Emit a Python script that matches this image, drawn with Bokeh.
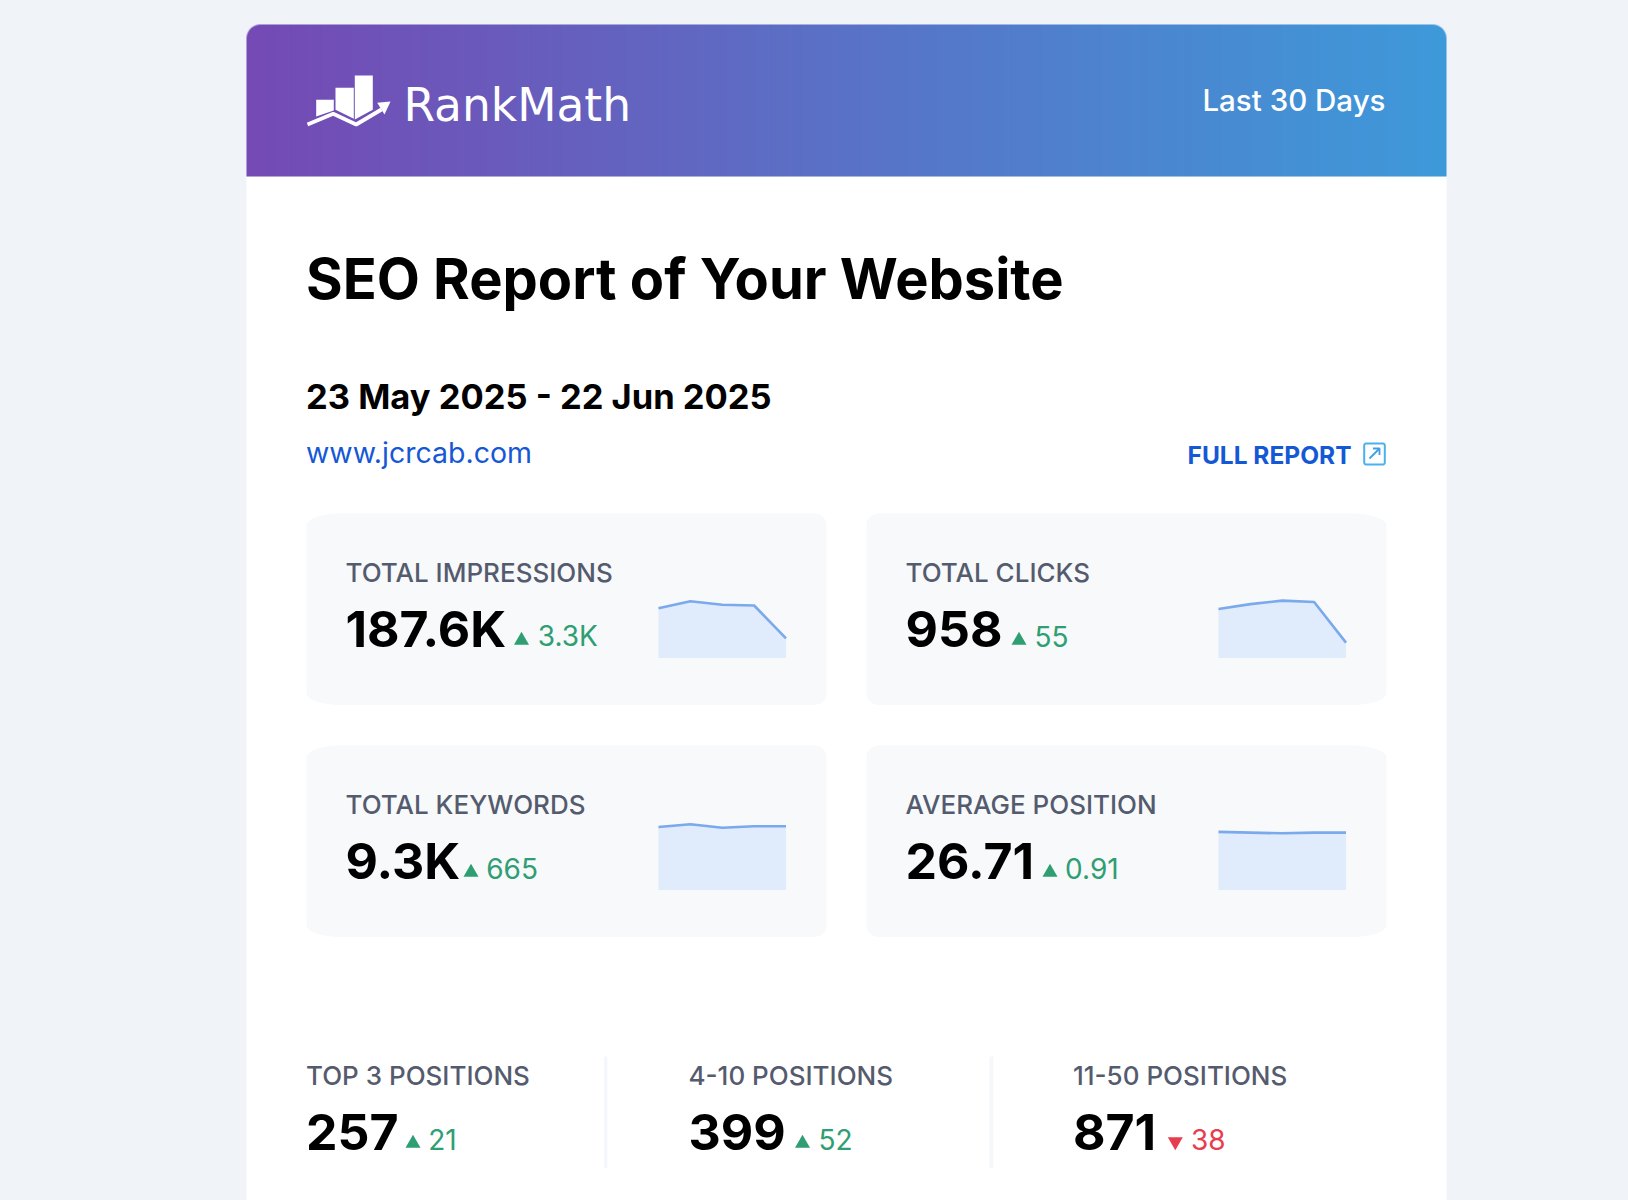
import numpy as np
from bokeh.core.properties import value
from bokeh.embed import file_html
from bokeh.models import GlobalInlineStyleSheet, Range1d
from bokeh.plotting import figure
from bokeh.resources import INLINE

# data
card_labels = ["TOTAL IMPRESSIONS", "TOTAL CLICKS", "TOTAL KEYWORDS", "AVERAGE POSITION"]
card_values = ["187.6K", "958", "9.3K", "26.71"]
card_deltas = ["3.3K", "55", "665", "0.91"]
impressions = [71, 81, 76, 75, 28]
clicks = [70, 77, 82, 80, 22]
keywords = [90, 94, 89, 91, 91]
position = [83, 82, 81, 82, 82]
spark_series = [impressions, clicks, keywords, position]
spark_idx = [0, 1, 2, 3, 4]

pos_labels = ["TOP 3 POSITIONS", "4-10 POSITIONS", "11-50 POSITIONS"]
pos_values = ["257", "399", "871"]
pos_deltas = ["21", "52", "38"]
pos_up = [True, True, False]

PAGE = "#f0f4f9"
GREEN = "#2f9e72"
RED = "#e63e4f"
GREY = "#555b6e"
BLUE = "#1558d6"
FONT = "Inter"
MEDIUM = "Inter Medium, Inter"

p = figure(width=1628, height=1200, x_range=Range1d(0, 1628), y_range=Range1d(1200, 0),
           output_backend="svg", toolbar_location=None, min_border=0,
           background_fill_color=PAGE, border_fill_color=PAGE, outline_line_color=None)
p.axis.visible = False
p.grid.visible = False
p.stylesheets = [GlobalInlineStyleSheet(css="body{background:%s}" % PAGE)]


def label(x, y, text, size, color="#000000", style="normal", align="left", font=FONT):
    # svg text sits lower than its baseline by about a third of the font size
    p.text([x], [y - 0.35 * size], text=[text], text_font=value(font), text_font_size="%gpx" % size,
           text_color=color, text_font_style=style, text_align=align, text_baseline="alphabetic")


def rounded(x0, y0, x1, y1, left, right):
    # left/right are (rx, ry) of the corners on each side
    t = np.linspace(0, np.pi / 2, 24)
    xs = np.concatenate([x0 + left[0] * (1 - np.cos(t)), x1 - right[0] * (1 - np.sin(t)),
                         x1 - right[0] * (1 - np.cos(t)), x0 + left[0] * (1 - np.sin(t))])
    ys = np.concatenate([y0 + left[1] * (1 - np.sin(t)), y0 + right[1] * (1 - np.cos(t)),
                         y1 - right[1] * (1 - np.sin(t)), y1 - left[1] * (1 - np.cos(t))])
    return xs, ys


# white page card
p.quad(left=246, right=1446, top=176, bottom=1200, fill_color="#ffffff", line_color=None)

# header gradient
W, H = 1200, 152
rgba = np.zeros((H, W, 4), dtype=np.uint8)
frac = np.arange(W) / (W - 1)
c0 = np.array([117, 74, 180])
c1 = np.array([62, 154, 218])
for k in range(3):
    rgba[:, :, k] = (c0[k] + (c1[k] - c0[k]) * frac)[None, :]
rgba[:, :, 3] = 255
R = 14
for j in range(R):
    for i in range(R):
        d = np.hypot(R - i - 0.5, R - j - 0.5)
        a = np.clip(R - d + 0.5, 0, 1) * 255
        rgba[j, i, 3] = a
        rgba[j, W - 1 - i, 3] = a
p.image_rgba(image=[rgba.view(dtype=np.uint32).reshape(H, W)], x=246, y=24, dw=W, dh=H)

# logo
for bx, by in [([315.7, 333.3, 333.3, 315.7], [99.3, 99.3, 110, 116]),
               ([335, 353.3, 353.3, 335], [87.3, 87.3, 118.3, 109.3]),
               ([354.3, 372.3, 372.3, 354.3], [75, 75, 109.3, 119])]:
    p.patch(bx, by, fill_color="#ffffff", line_color=None)
p.line([307, 332.7, 355.7, 381], [124, 113.3, 124, 109], line_color="#ffffff", line_width=3.8)
p.patch([390, 376.7, 384], [101, 102.3, 114], fill_color="#ffffff", line_color=None)
label(403, 121, "RankMath", 45.5, "#ffffff", font="DejaVu Sans")
label(1385, 110, "Last 30 Days", 29.5, "#ffffff", align="right", font=MEDIUM)

# headings
label(305.5, 298.5, "SEO Report of Your Website", 56, style="bold")
label(305.5, 408, "23 May 2025 - 22 Jun 2025", 34.5, style="bold")
label(305.5, 462, "www.jcrcab.com", 28.5, BLUE)
label(1187, 463.3, "FULL REPORT", 24.5, BLUE, style="bold")

# external link icon
p.patch(*rounded(1363.7, 443, 1384.3, 464, (2, 2), (2, 2)), fill_color=None, line_color="#4cb0ee", line_width=2)
p.line([1369, 1379], [458, 448], line_color="#3f9fe6", line_width=1.8)
p.line([1372.5, 1379, 1379], [448, 448, 454.5], line_color="#3f9fe6", line_width=1.8)

# metric cards
card_x = [306, 866, 306, 866]
card_y = [513, 513, 745, 745]
tri_x = [521, 1018.5, 470.5, 1049.5]
delta_x = [537.3, 1034, 485.7, 1064.6]
big = (35, 12)
small = (13, 11)
for i in range(4):
    x, y = card_x[i], card_y[i]
    corner = (big, small) if x == 306 else (small, big)
    p.patch(*rounded(x, y, x + 520, y + 191.5, *corner), fill_color="#f7f9fb", line_color=None)
    label(x + 39, y + 67.7, card_labels[i], 26, GREY, font=MEDIUM)
    label(x + 39, y + 133, card_values[i], 50, style="bold")
    p.scatter([tri_x[i]], [y + 127], marker="triangle", size=15, fill_color=GREEN, line_color=None)
    label(delta_x[i], y + 132.5, card_deltas[i], 28, GREEN)

    # sparkline, 0-100 mapped on its own box
    sub = p.subplot(x_source=Range1d(0, 4), y_source=Range1d(0, 100),
                    x_target=Range1d(x + 352, x + 479.5), y_target=Range1d(y + 144.5, y + 74.5))
    sub.varea(spark_idx, [0] * 5, spark_series[i], fill_color="#e0ebfc")
    sub.line(spark_idx, spark_series[i], line_color="#7aa9ec", line_width=2.6)

# positions row
pos_x = [305.5, 688, 1072.5]
pos_tri = [412.5, 802, 1174.8]
pos_delta = [427.7, 818, 1190.4]
for i in range(3):
    label(pos_x[i], 1084, pos_labels[i], 26, GREY, font=MEDIUM)
    label(pos_x[i], 1149, pos_values[i], 50, style="bold")
    color = GREEN if pos_up[i] else RED
    mark = "triangle" if pos_up[i] else "inverted_triangle"
    tri_y = 1143 if pos_up[i] else 1141
    p.scatter([pos_tri[i]], [tri_y], marker=mark, size=15, fill_color=color, line_color=None)
    label(pos_delta[i], 1148.3, pos_deltas[i], 28, color)
p.quad(left=[603.5, 989], right=[607, 993], top=[1056, 1056], bottom=[1167.7, 1167.7],
       fill_color="#f5f7fa", line_color=None)

open("out.html", "w").write(file_html(p, INLINE))
